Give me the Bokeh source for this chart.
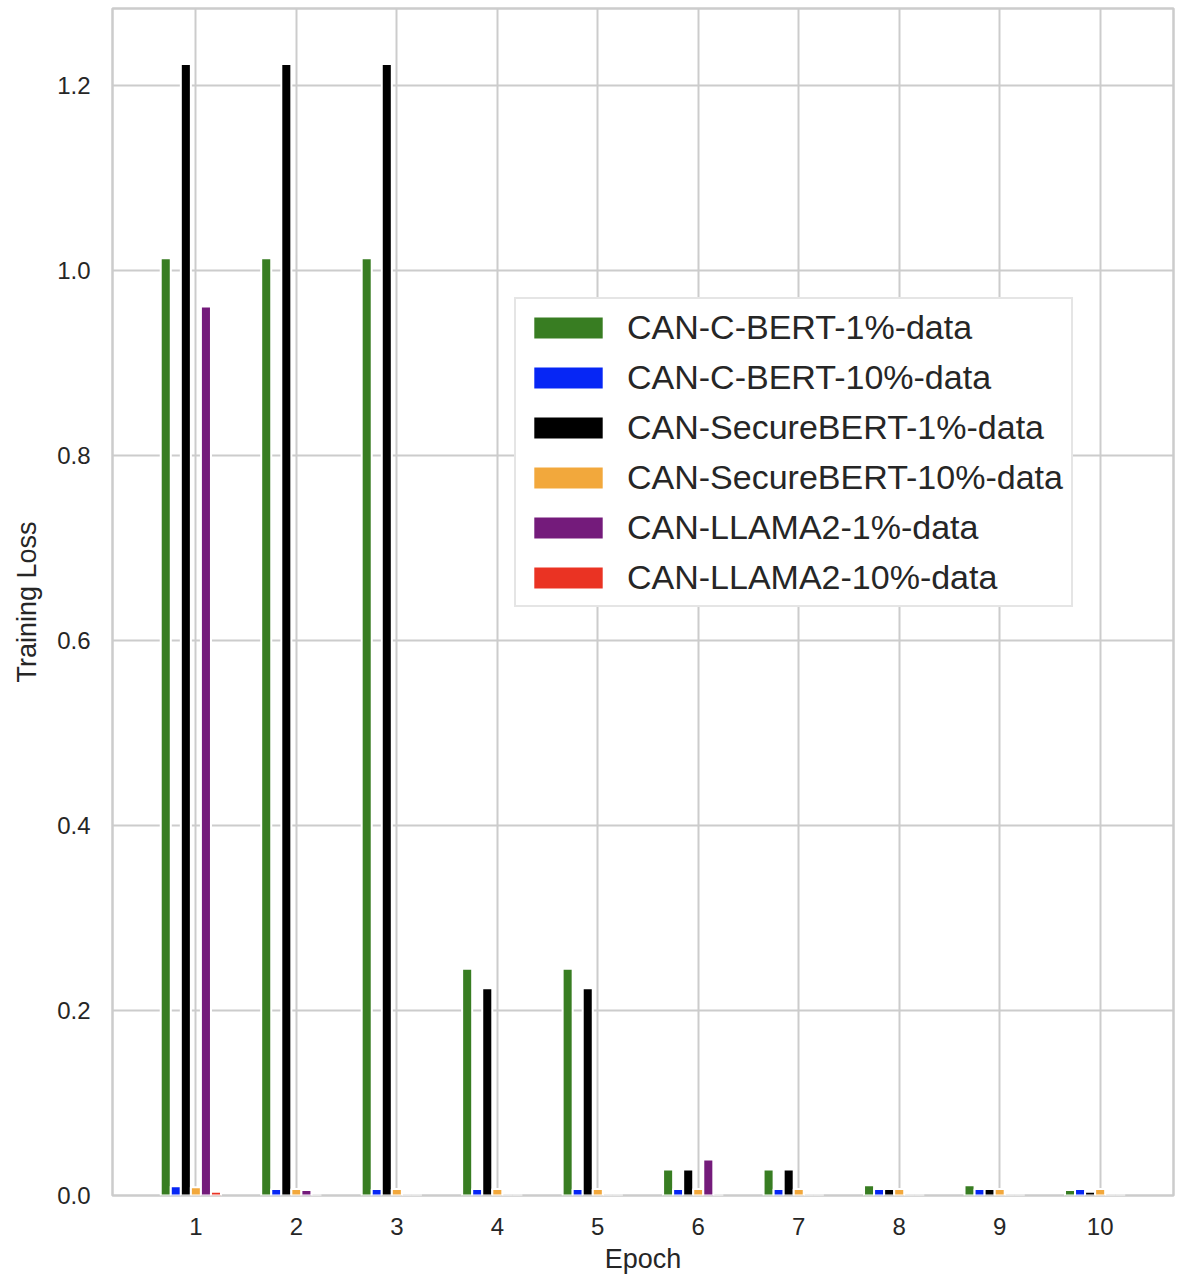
from bokeh.plotting import figure
from bokeh.models import ColumnDataSource, Range1d, FixedTicker, NumeralTickFormatter, Legend, LegendItem
from bokeh.transform import dodge
from bokeh.embed import file_html
from bokeh.resources import INLINE

epochs = [1, 2, 3, 4, 5, 6, 7, 8, 9, 10]
cbert_1 = [1.013, 1.013, 1.013, 0.245, 0.245, 0.028, 0.028, 0.011, 0.011, 0.006]
cbert_10 = [0.010, 0.007, 0.007, 0.007, 0.007, 0.007, 0.007, 0.007, 0.007, 0.007]
secbert_1 = [1.223, 1.223, 1.223, 0.224, 0.224, 0.028, 0.028, 0.007, 0.007, 0.004]
secbert_10 = [0.009, 0.007, 0.007, 0.007, 0.007, 0.007, 0.007, 0.007, 0.007, 0.007]
llama_1 = [0.961, 0.006, 0.0, 0.0, 0.0, 0.039, 0.0, 0.0, 0.0, 0.0]
llama_10 = [0.004, 0.0, 0.0, 0.0, 0.0, 0.0, 0.0, 0.0, 0.0, 0.0]

series_names = ["CAN-C-BERT-1%-data", "CAN-C-BERT-10%-data", "CAN-SecureBERT-1%-data",
                "CAN-SecureBERT-10%-data", "CAN-LLAMA2-1%-data", "CAN-LLAMA2-10%-data"]
series_keys = ["cbert_1", "cbert_10", "secbert_1", "secbert_10", "llama_1", "llama_10"]
colors = ["#387d22", "#0626f5", "#000000", "#f2a83c", "#741b7b", "#ea3323"]
offsets = [-0.3, -0.2, -0.1, 0.0, 0.1, 0.2]

source = ColumnDataSource(dict(epoch=epochs, cbert_1=cbert_1, cbert_10=cbert_10,
                               secbert_1=secbert_1, secbert_10=secbert_10,
                               llama_1=llama_1, llama_10=llama_10))

FONT = "Liberation Sans"
TXT = "#262626"
GRID = "#cccccc"

p = figure(frame_width=1061, frame_height=1187, output_backend="svg", toolbar_location=None,
           x_range=Range1d(0.17, 10.73), y_range=Range1d(0, 1.283),
           min_border_left=112, min_border_top=8, min_border_right=6, min_border_bottom=80)

items = []
for name, key, col, off in zip(series_names, series_keys, colors, offsets):
    r = p.vbar(x=dodge("epoch", off, range=p.x_range), top=key, width=0.1, source=source,
               fill_color=col, line_color="white", line_width=2)
    items.append(LegendItem(label=name, renderers=[r]))

legend = Legend(items=items, location=(402, 588))
legend.label_text_font = FONT
legend.label_text_font_size = "34px"
legend.label_text_color = TXT
legend.glyph_width = 88
legend.glyph_height = 29
legend.label_height = 40
legend.spacing = 10
legend.padding = 8
legend.margin = 0
legend.label_standoff = 15
legend.border_line_color = GRID
legend.border_line_width = 2
legend.background_fill_alpha = 1.0
p.add_layout(legend)

p.xaxis.ticker = FixedTicker(ticks=epochs)
p.yaxis.ticker = FixedTicker(ticks=[0.0, 0.2, 0.4, 0.6, 0.8, 1.0, 1.2])
p.yaxis.formatter = NumeralTickFormatter(format="0.0")

for ax in (p.xaxis, p.yaxis):
    ax.axis_line_color = None
    ax.major_tick_line_color = None
    ax.minor_tick_line_color = None
    ax.major_tick_out = 0
    ax.major_tick_in = 0
    ax.major_label_text_font = FONT
    ax.major_label_text_font_size = "24px"
    ax.major_label_text_color = TXT
    ax.axis_label_text_font = FONT
    ax.axis_label_text_font_size = "27px"
    ax.axis_label_text_font_style = "normal"
    ax.axis_label_text_color = TXT

p.xaxis.axis_label = "Epoch"
p.yaxis.axis_label = "Training Loss"
p.yaxis.major_label_standoff = 22
p.yaxis.axis_label_standoff = 12
p.xaxis.major_label_standoff = 22
p.xaxis.axis_label_standoff = 6

p.grid.grid_line_color = GRID
p.grid.grid_line_width = 2
p.outline_line_color = GRID
p.outline_line_width = 2.5
p.background_fill_color = "white"
p.border_fill_color = "white"

open("out.html", "w").write(file_html(p, INLINE))
